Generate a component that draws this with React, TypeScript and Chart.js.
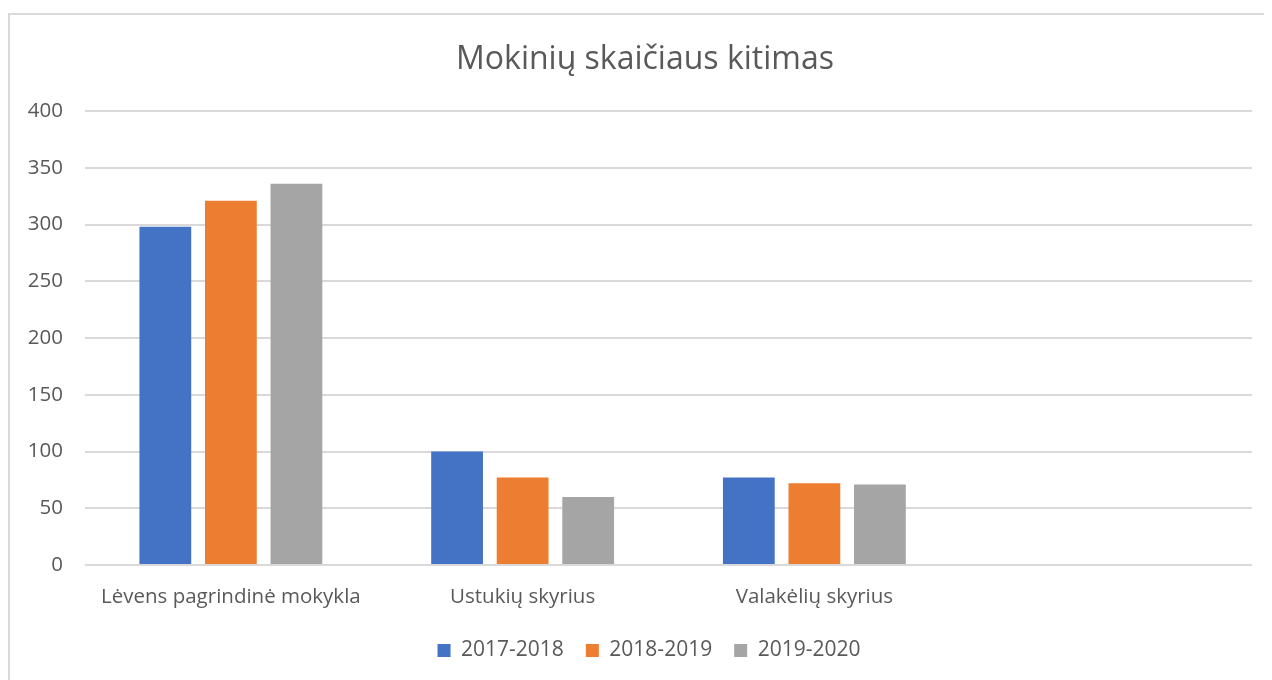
import React, { useEffect, useRef } from "react";
import { Chart, registerables } from "chart.js";

Chart.register(...registerables);

const categories = ["Lėvens pagrindinė mokykla", "Ustukių skyrius", "Valakėlių skyrius", ""];
const series2017 = [298, 100, 77, null];
const series2018 = [321, 77, 72, null];
const series2019 = [336, 60, 71, null];
const seriesLabels = ["2017-2018", "2018-2019", "2019-2020"];
const colors = ["#4472C4", "#ED7D31", "#A5A5A5"];
const yTicksMax = 400;
const yTickStep = 50;

const FONT = "'Open Sans', 'Noto Sans', sans-serif";
const TEXT = "#595959";

const shiftBoxes = {
  id: "shiftBoxes",
  afterLayout(chart: any) {
    const l = chart.legend;
    if (l) {
      l.left += 19;
      l.right += 19;
    }
    const t = chart.titleBlock;
    if (t) {
      t.left += 15;
      t.right += 15;
    }
  },
};

export default function App() {
  const ref = useRef<HTMLCanvasElement | null>(null);

  useEffect(() => {
    document.body.style.overflow = "hidden";
    const canvas = ref.current;
    if (!canvas) return;
    const chart = new Chart(canvas, {
      type: "bar",
      data: {
        labels: categories,
        datasets: [series2017, series2018, series2019].map((d, i) => ({
          label: seriesLabels[i],
          data: d,
          backgroundColor: colors[i],
          borderWidth: 0,
          categoryPercentage: 0.674,
          barPercentage: 0.79,
        })),
      },
      plugins: [shiftBoxes],
      options: {
        responsive: false,
        animation: false,
        devicePixelRatio: 1,
        layout: { padding: { left: 0, right: 20, top: 0, bottom: 9 } },
        plugins: {
          title: {
            display: true,
            text: "Mokinių skaičiaus kitimas",
            color: TEXT,
            font: { family: FONT, size: 32, weight: "normal" },
            padding: { top: 33, bottom: 31.6 },
          },
          legend: {
            position: "bottom",
            labels: {
              color: TEXT,
              font: { family: FONT, size: 21 },
              boxWidth: 13,
              boxHeight: 13,
              padding: 22,
            },
          },
          tooltip: { enabled: false },
        },
        scales: {
          x: {
            grid: { display: false, drawTicks: false },
            border: { display: false },
            ticks: {
              color: TEXT,
              font: { family: FONT, size: 20.5 },
              padding: 20,
              maxRotation: 0,
              autoSkip: false,
            },
            afterFit: (s: any) => {
              s.height = 53;
            },
          },
          y: {
            min: 0,
            max: yTicksMax,
            grid: { color: "#d9d9d9", lineWidth: 2, drawTicks: false },
            border: { display: false },
            ticks: {
              stepSize: yTickStep,
              color: TEXT,
              font: { family: FONT, size: 20.5 },
              padding: 22,
            },
            afterFit: (s: any) => {
              s.width = 77;
            },
          },
        },
      },
    });
    return () => chart.destroy();
  }, []);

  return (
    <div style={{ position: "relative", width: 1264, height: 672, overflow: "hidden", background: "#fff" }}>
      <div
        style={{
          position: "absolute",
          left: 0,
          top: 5,
          width: 1300,
          height: 700,
          border: "2px solid #d9d9d9",
          boxSizing: "border-box",
        }}
      />
      <canvas ref={ref} width={1264} height={672} style={{ position: "absolute", left: 0, top: 0 }} />
    </div>
  );
}
